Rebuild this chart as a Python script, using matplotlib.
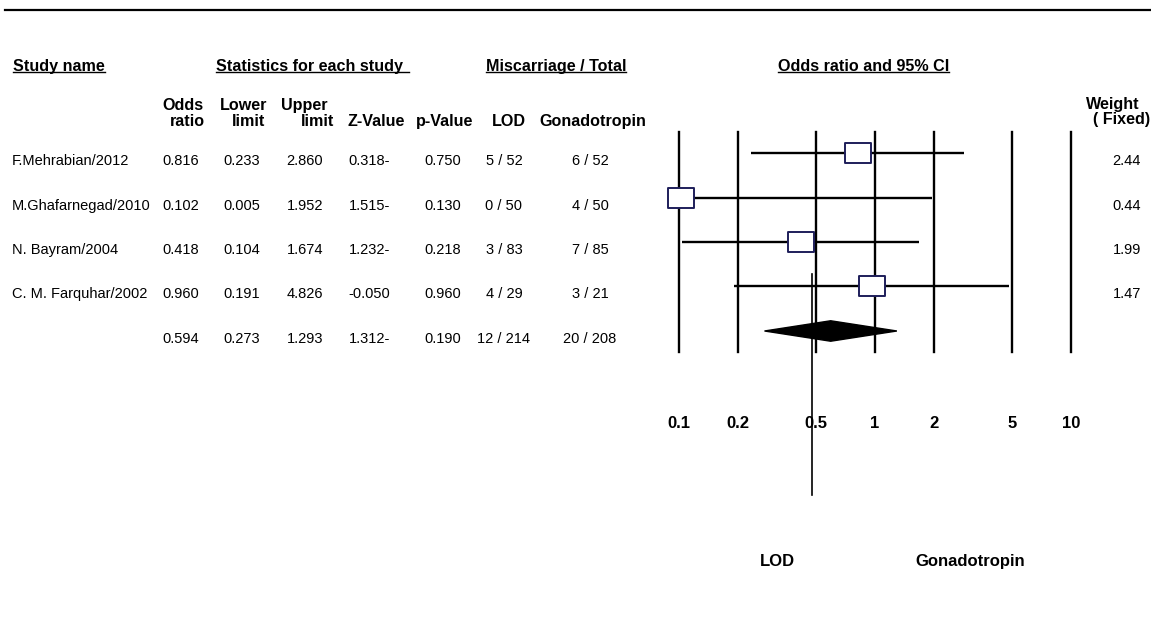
import matplotlib
matplotlib.use("Agg")
import matplotlib.pyplot as plt
from matplotlib.lines import Line2D
from matplotlib.path import Path
from matplotlib import transforms

# ---------------- data ----------------
study_names = ["F.Mehrabian/2012", "M.Ghafarnegad/2010", "N. Bayram/2004", "C. M. Farquhar/2002"]
odds_ratio = [0.816, 0.102, 0.418, 0.960]
lower_limit = [0.233, 0.005, 0.104, 0.191]
upper_limit = [2.860, 1.952, 1.674, 4.826]
z_labels = ["0.318-", "1.515-", "1.232-", "-0.050"]
p_values = [0.750, 0.130, 0.218, 0.960]
lod_events = [5, 0, 3, 4]
lod_total = [52, 50, 83, 29]
gon_events = [6, 4, 7, 3]
gon_total = [52, 50, 85, 21]
weights = [2.44, 0.44, 1.99, 1.47]

pooled_or = 0.594
pooled_lower = 0.273
pooled_upper = 1.293
pooled_z = "1.312-"
pooled_p = 0.190
pooled_lod = (12, 214)
pooled_gon = (20, 208)

axis_ticks = [0.1, 0.2, 0.5, 1, 2, 5, 10]
axis_tick_labels = ["0.1", "0.2", "0.5", "1", "2", "5", "10"]
stray_line_x = 0.477          # thin reference line as drawn in the original
stray_line_rows = (2.72, 7.69)

# ---------------- figure ----------------
W, H = 1151, 619
plt.rcParams['font.family'] = ['Liberation Sans', 'DejaVu Sans']
fig = plt.figure(figsize=(W / 100, H / 100), dpi=100)

# pixel -> figure transform (x from left, y from top)
PX = transforms.Affine2D().scale(1 / W, -1 / H).translate(0, 1) + fig.transFigure

HB = 11.6   # header bold size
DS = 10.5   # data size

def txt(x, y, s, ha='left', bold=False, size=None, **kw):
    return fig.text(x, y, s, transform=PX, ha=ha, va='baseline',
                    fontsize=size if size else (HB if bold else DS),
                    fontweight='bold' if bold else 'normal', color='black', **kw)

# top rule
fig.add_artist(Line2D([5, W], [10, 10], transform=PX, color='black', lw=1.6))

# ---------------- forest axes ----------------
ax = fig.add_axes([679 / W, 1 - 352 / H, 392 / W, 220 / H])
ax.set_xscale('log')
ax.set_xlim(0.1, 10)
ax.set_ylim(4.472, -0.472)
ax.axis('off')

for t in axis_ticks:
    ax.axvline(t, color='black', lw=1.7, clip_on=False, zorder=1)

rows = list(range(len(study_names)))
ax.hlines(rows, lower_limit, upper_limit, color='black', lw=1.7, zorder=2)

rect = Path([(-0.5, -0.389), (0.5, -0.389), (0.5, 0.389), (-0.5, 0.389), (-0.5, -0.389)],
            [Path.MOVETO, Path.LINETO, Path.LINETO, Path.LINETO, Path.CLOSEPOLY])
ax.plot(odds_ratio, rows, linestyle='none', marker=rect, markersize=19,
        markerfacecolor='white', markeredgecolor='#1e1e5a', markeredgewidth=1.4,
        clip_on=False, zorder=4)

# pooled diamond
prow = len(study_names)
h = 0.23
ax.fill([pooled_lower, pooled_or, pooled_upper, pooled_or],
        [prow, prow - h, prow, prow + h], color='black', zorder=3)

# thin line
ax.plot([stray_line_x, stray_line_x], list(stray_line_rows), color='black', lw=1.2,
        clip_on=False, zorder=5)

# tick labels
tick_tr = transforms.blended_transform_factory(ax.transData, fig.transFigure)
for t, lab in zip(axis_ticks, axis_tick_labels):
    fig.text(t, 1 - 428 / H, lab, transform=tick_tr, ha='center', va='baseline',
             fontsize=12, fontweight='bold')

# bottom side labels
txt(777, 566, "LOD", ha='center', bold=True, size=12)
txt(970, 566, "Gonadotropin", ha='center', bold=True, size=12)

# ---------------- headers ----------------
underlined = [
    txt(13, 71, "Study name", bold=True),
    txt(216, 71, "Statistics for each study", bold=True),
    txt(486, 71, "Miscarriage / Total", bold=True),
    txt(778, 71, "Odds ratio and 95% CI", bold=True),
]
extend = [0, 6, 0, 0]

txt(204, 110, "Odds", ha='right', bold=True)
txt(205, 126, "ratio", ha='right', bold=True)
txt(267, 110, "Lower", ha='right', bold=True)
txt(265, 126, "limit", ha='right', bold=True)
txt(328, 110, "Upper", ha='right', bold=True)
txt(334, 126, "limit", ha='right', bold=True)
txt(405, 126, "Z-Value", ha='right', bold=True)
txt(473, 126, "p-Value", ha='right', bold=True)
txt(509, 126, "LOD", ha='center', bold=True)
txt(593, 126, "Gonadotropin", ha='center', bold=True)
txt(1140, 109, "Weight", ha='right', bold=True)
txt(1150, 124, "( Fixed)", ha='right', bold=True)

# ---------------- table rows ----------------
row_tr = transforms.offset_copy(
    transforms.blended_transform_factory(PX, ax.transData), fig=fig, x=0, y=-12, units='dots')

def rtxt(x, r, s, ha='right'):
    fig.text(x, r, s, transform=row_tr, ha=ha, va='baseline', fontsize=DS)

for i in rows:
    rtxt(12, i, study_names[i], ha='left')
    rtxt(199, i, f"{odds_ratio[i]:.3f}")
    rtxt(260, i, f"{lower_limit[i]:.3f}")
    rtxt(323, i, f"{upper_limit[i]:.3f}")
    rtxt(390, i, z_labels[i])
    rtxt(461, i, f"{p_values[i]:.3f}")
    rtxt(504, i, f"{lod_events[i]} / {lod_total[i]}", ha='center')
    rtxt(590, i, f"{gon_events[i]} / {gon_total[i]}", ha='center')
    rtxt(1141, i, f"{weights[i]:.2f}")

rtxt(199, prow, f"{pooled_or:.3f}")
rtxt(260, prow, f"{pooled_lower:.3f}")
rtxt(323, prow, f"{pooled_upper:.3f}")
rtxt(390, prow, pooled_z)
rtxt(461, prow, f"{pooled_p:.3f}")
rtxt(504, prow, f"{pooled_lod[0]} / {pooled_lod[1]}", ha='center')
rtxt(590, prow, f"{pooled_gon[0]} / {pooled_gon[1]}", ha='center')

# underlines
fig.canvas.draw()
renderer = fig.canvas.get_renderer()
for t, e in zip(underlined, extend):
    bb = t.get_window_extent(renderer)
    x0, x1 = bb.x0 * W / fig.bbox.width, bb.x1 * W / fig.bbox.width + e
    fig.add_artist(Line2D([x0, x1], [72, 72], transform=PX, color='black', lw=1.0))

fig.savefig("out.png", dpi=100, facecolor='white')
